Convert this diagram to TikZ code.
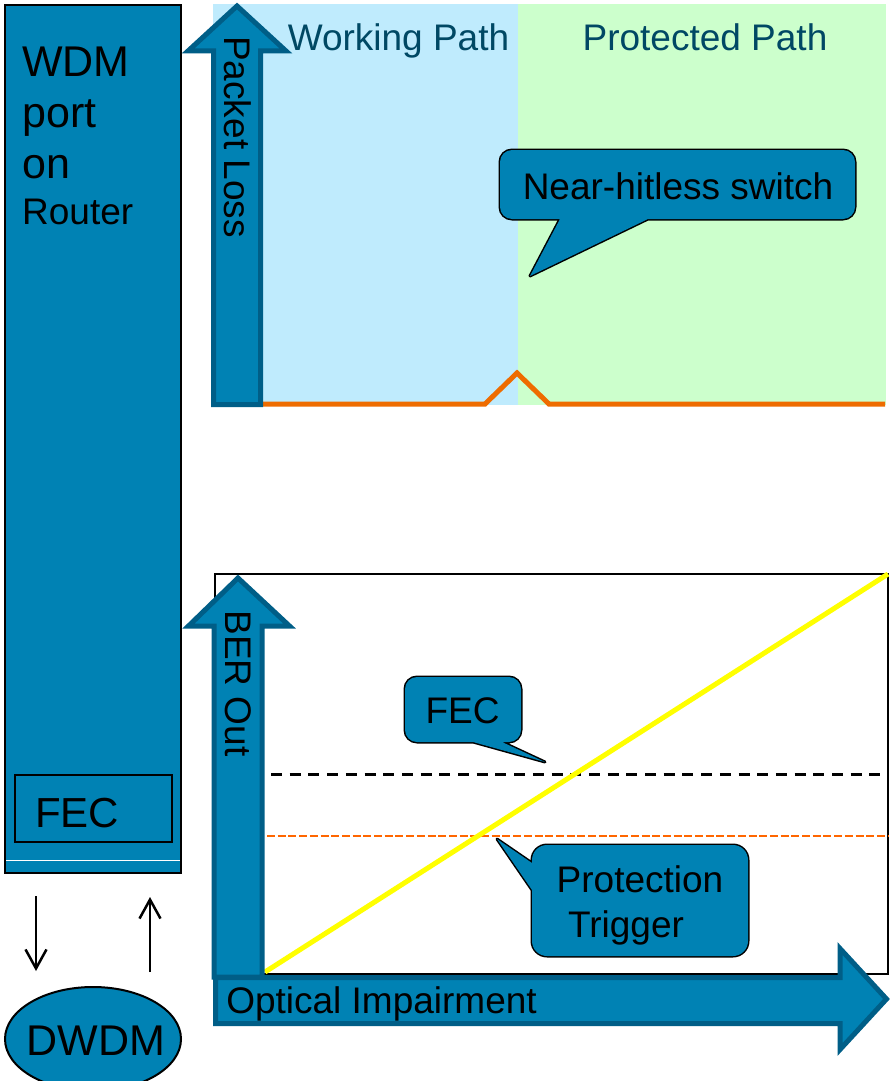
\documentclass[tikz,border=0pt]{standalone}
\usepackage{fontspec}
\setmainfont{Liberation Sans}
\usetikzlibrary{arrows.meta,shapes.geometric}

\definecolor{portblue}{RGB}{0,130,180}
\definecolor{arrowedge}{RGB}{0,94,135}
\definecolor{workbg}{RGB}{191,235,253}
\definecolor{protbg}{RGB}{204,255,204}
\definecolor{pathtext}{RGB}{0,72,100}
\definecolor{lossline}{RGB}{238,108,0}
\definecolor{trigline}{RGB}{255,102,0}
\definecolor{berline}{RGB}{255,255,0}

\begin{document}
\begin{tikzpicture}[x=1pt,y=-1pt,
  txt/.style={inner sep=0pt, font=\fontsize{37}{44}\selectfont},
  bigtxt/.style={inner sep=0pt, font=\fontsize{43}{51}\selectfont},
  blockarrow/.style={fill=portblue, draw=arrowedge, line width=5pt},
  callout/.style={fill=portblue, line join=round,
    preaction={draw=black, line width=3pt, line join=round}},
  thinarrow/.style={line width=2.5pt, -{Straight Barb[length=19pt,width=21pt]}},
]
\useasboundingbox (0,0) rectangle (892,1081);
\clip (0,0) rectangle (892,1081);

% ---- router port ----
\node[draw=black, fill=portblue, line width=2pt, minimum width=176pt,
      minimum height=868pt, inner sep=0pt] (wdmport) at (93,439) {};
\node[bigtxt, anchor=base west] (wdmtxt) at (22,76) {WDM};
\node[bigtxt, anchor=base west] (porttxt) at (22,127) {port};
\node[bigtxt, anchor=base west] (ontxt) at (22,178) {on};
\node[txt, anchor=base west] (routertxt) at (22,224) {Router};
\node[draw=black, line width=1.5pt, minimum width=157pt, minimum height=67pt,
      inner sep=0pt] (fecbox) at (93.5,808.5) {};
\node[inner sep=0pt, font=\fontsize{42}{50}\selectfont, anchor=base] (fectxt) at (77,827) {FEC};
\draw[white, line width=1pt] (6,860) -- (180,860);

% ---- DWDM and the links to it ----
\node[ellipse, draw=black, fill=portblue, line width=2pt, minimum width=176pt,
      minimum height=104pt, inner sep=0pt] (dwdm) at (93,1039) {};
\node[bigtxt, anchor=base] (dwdmtxt) at (96,1055) {DWDM};
\coordinate (txstart) at (36,896);
\coordinate (txend) at (36,971);
\coordinate (rxstart) at (150,972);
\coordinate (rxend) at (150,897);
\draw[thinarrow] (txstart) -- (txend);
\draw[thinarrow] (rxstart) -- (rxend);

% ---- packet loss panel ----
\fill[workbg] (213,4) rectangle (518,405);
\fill[protbg] (518,4) rectangle (886,405);
\node[txt, text=pathtext, anchor=base] (working) at (398.5,51) {Working Path};
\node[txt, text=pathtext, anchor=base] (protected) at (705,51) {Protected Path};
\draw[lossline, line width=5pt] (263,404) -- (485,404) -- (517,373)
      -- (549,404) -- (885,404);
\draw[blockarrow] (213.5,404.5) -- (213.5,51) -- (188,51) -- (237,6)
      -- (286,51) -- (260.5,51) -- (260.5,404.5) -- cycle;
\node[txt, rotate=-90, anchor=base] (losstxt) at (224,137) {Packet Loss};
\path[callout] [rounded corners=12pt] (500,150) rectangle (855,219)
      [sharp corners] (560,219) -- (530,276) -- (648,219);
\node[txt, anchor=base] (hitless) at (678,199) {Near-hitless switch};

% ---- BER panel ----
\node[draw=black, line width=2pt, minimum width=673pt, minimum height=400pt,
      inner sep=0pt] (chart) at (551.5,774) {};
\draw[black, line width=3pt, dash pattern=on 11pt off 7.7pt] (271,774) -- (888,774);
\draw[trigline, line width=2.5pt, dash pattern=on 8pt off 2.7pt] (267,836) -- (888,836);
\draw[berline, line width=5pt] (265,972) -- (888,574);
\draw[blockarrow] (214,977) -- (214,626) -- (188.5,626) -- (238,578)
      -- (289.5,626) -- (262,626) -- (262,977) -- cycle;
\node[txt, rotate=-90, anchor=base] (bertxt) at (225,683.5) {BER Out};
\draw[blockarrow] (215.5,977.5) -- (840,977.5) -- (840,948.5) -- (886.5,999)
      -- (840,1049.5) -- (840,1023.5) -- (215.5,1023.5) -- cycle;
\node[txt, anchor=base] (opttxt) at (381.5,1013) {Optical Impairment};

\path[callout] [rounded corners=12pt] (405,677) rectangle (521,742)
      [sharp corners] (473,742) -- (545,762) -- (502,742);
\node[txt, anchor=base] (fecnote) at (462.5,723) {FEC};

\path[callout] [rounded corners=15pt] (532,845) rectangle (748,956)
      [sharp corners] (532,863) -- (497,839) -- (532,890);
\node[txt, anchor=base] (protline) at (640,892) {Protection};
\node[txt, anchor=base] (trigline) at (626,937) {Trigger};
\end{tikzpicture}
\end{document}
